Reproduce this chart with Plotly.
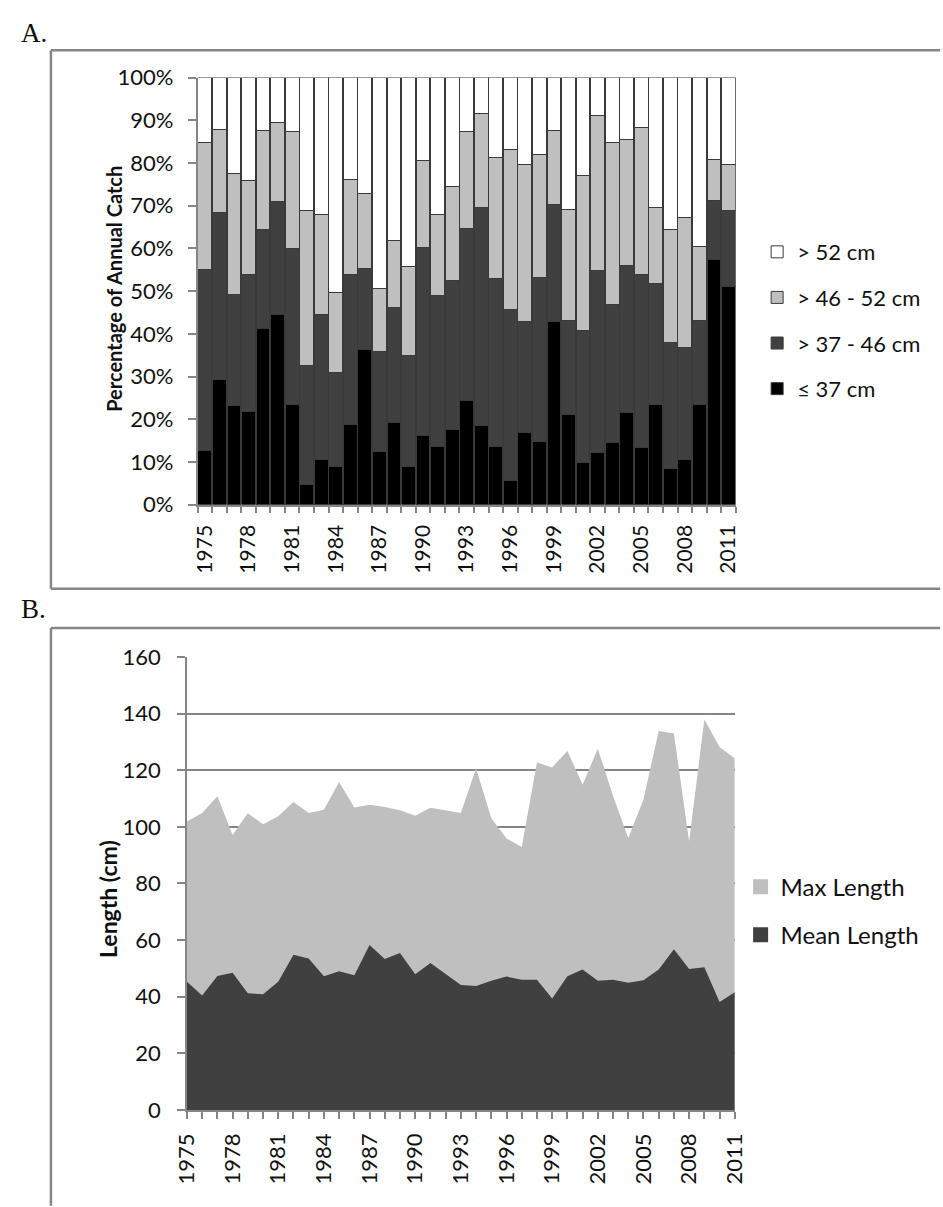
import plotly.graph_objects as go

# ---------------- data ----------------
years = list(range(1975, 2012))
label_years = list(range(1975, 2012, 3))

# Percentage of annual catch by length class (each year sums to 100)
share_le37 = [12.8, 29.4, 23.3, 21.9, 41.3, 44.5, 23.5, 4.8, 10.6, 8.9,
              18.8, 36.4, 12.5, 19.3, 8.9, 16.2, 13.7, 17.7, 24.4, 18.5,
              13.7, 5.6, 17.0, 14.9, 42.9, 21.2, 10.0, 12.3, 14.5, 21.6,
              13.4, 23.5, 8.6, 10.7, 23.5, 57.4, 51.0]
share_37_46 = [42.3, 38.9, 25.9, 32.1, 23.1, 26.4, 36.4, 27.8, 33.9, 22.1,
               35.0, 19.0, 23.4, 26.8, 26.0, 44.1, 35.3, 34.7, 40.3, 51.0,
               39.2, 40.0, 25.9, 38.3, 27.4, 22.0, 30.7, 42.6, 32.3, 34.3,
               40.5, 28.4, 29.4, 26.0, 19.6, 13.8, 17.9]
share_46_52 = [29.8, 19.6, 28.4, 22.0, 23.3, 18.5, 27.5, 36.3, 23.5, 18.6,
               22.4, 17.4, 14.7, 15.8, 20.9, 20.2, 19.0, 22.1, 22.7, 22.1,
               28.4, 37.6, 36.8, 28.9, 17.4, 25.9, 36.3, 36.2, 37.9, 29.5,
               34.4, 17.7, 26.4, 30.6, 17.4, 9.5, 10.7]
share_gt52 = [15.1, 12.1, 22.4, 24.0, 12.3, 10.6, 12.6, 31.1, 32.0, 50.4,
              23.8, 27.2, 49.4, 38.1, 44.2, 19.5, 32.0, 25.5, 12.6, 8.4,
              18.7, 16.8, 20.3, 17.9, 12.3, 30.9, 23.0, 8.9, 15.3, 14.6,
              11.7, 30.4, 35.6, 32.7, 39.5, 19.3, 20.4]

# Maximum and mean length of the catch (cm)
max_length = [101.9, 104.9, 110.8, 97.1, 104.8, 100.9, 103.7, 108.8, 104.9, 106.0,
              115.8, 106.8, 107.8, 107.0, 105.9, 103.9, 106.7, 105.9, 104.9, 120.7,
              103.0, 95.9, 92.9, 122.7, 121.0, 126.8, 114.9, 127.6, 110.9, 96.1,
              109.7, 133.9, 133.0, 94.8, 137.9, 128.2, 124.1]
mean_length = [45.3, 40.4, 47.3, 48.5, 41.2, 40.9, 45.3, 54.8, 53.5, 47.2,
               49.0, 47.6, 58.3, 53.3, 55.4, 47.9, 51.9, 47.9, 44.1, 43.8,
               45.6, 47.1, 46.0, 46.0, 39.4, 47.2, 49.6, 45.6, 46.0, 44.9,
               45.8, 49.6, 56.8, 49.8, 50.4, 38.1, 41.6]

size_classes = ["\u2264 37 cm", "> 37 - 46 cm", "> 46 - 52 cm", "> 52 cm"]
class_colors = ["#000000", "#404040", "#bfbfbf", "#ffffff"]

# ---------------- page geometry ----------------
W, H = 943, 1207


def px(x):
    return x / W


def py(y):
    return 1 - y / H


FONT = "Lato, 'Open Sans', sans-serif"
AXIS_GRAY = "#868686"
TEXT = "#111111"

fig = go.Figure()

# Panel A: stacked bars of catch composition (largest class listed first in legend)
for i, (name, vals, col) in enumerate(zip(size_classes,
                                          [share_le37, share_37_46, share_46_52, share_gt52],
                                          class_colors)):
    fig.add_trace(go.Bar(
        x=years, y=vals, name=name, marker_color=col,
        marker_line=dict(color="#3a3a3a", width=1),
        xaxis="x", yaxis="y", legend="legend", legendgroup=name,
        legendrank=10 - i, hoverinfo="x+y+name",
    ))

# Panel B: overlaid area series
fig.add_trace(go.Scatter(
    x=years, y=max_length, name="Max Length", mode="lines",
    line=dict(width=0, color="#bfbfbf"), fill="tozeroy", fillcolor="#bfbfbf",
    xaxis="x2", yaxis="y2", showlegend=False,
))
fig.add_trace(go.Scatter(
    x=years, y=mean_length, name="Mean Length", mode="lines",
    line=dict(width=0, color="#404040"), fill="tozeroy", fillcolor="#404040",
    xaxis="x2", yaxis="y2", showlegend=False,
))
# square legend keys for the area series
for name, col in [("Max Length", "#bfbfbf"), ("Mean Length", "#404040")]:
    fig.add_trace(go.Scatter(
        x=[None], y=[None], name=name, mode="markers",
        marker=dict(symbol="square", size=15, color=col),
        xaxis="x2", yaxis="y2", legend="legend2", legendgroup=name,
    ))

fig.update_layout(
    width=W, height=H,
    margin=dict(l=0, r=0, t=0, b=0),
    paper_bgcolor="white", plot_bgcolor="white",
    barmode="stack", bargap=0.05,
    font=dict(family=FONT, color=TEXT),
    xaxis=dict(
        domain=[px(188), px(742)], anchor="y",
        range=[1974.5, 2011.5], tickmode="array", tickvals=label_years,
        ticktext=[str(v) for v in label_years], tickangle=-90,
        ticks="", showgrid=False, zeroline=False,
        showline=True, linecolor=AXIS_GRAY, linewidth=1.5,
        tickfont=dict(family=FONT, size=21, color=TEXT), ticklabelstandoff=10,
        minor=dict(tickmode="linear", tick0=1974.5, dtick=1, ticks="outside",
                   ticklen=6, tickcolor=AXIS_GRAY, tickwidth=1.5, showgrid=False),
    ),
    yaxis=dict(
        domain=[py(502), py(65)], anchor="x",
        range=[0, 100], tickmode="linear", tick0=0, dtick=10, ticksuffix="%",
        ticks="outside", ticklen=8, tickcolor=AXIS_GRAY, tickwidth=1.5,
        showgrid=False, zeroline=False,
        showline=True, linecolor=AXIS_GRAY, linewidth=1.5,
        tickfont=dict(family=FONT, size=22, color=TEXT), ticklabelstandoff=10,
    ),
    xaxis2=dict(
        domain=[px(177), px(741)], anchor="y2",
        range=[1975, 2011], tickmode="array", tickvals=label_years,
        ticktext=[str(v) for v in label_years], tickangle=-90,
        ticks="outside", ticklen=7, tickcolor=AXIS_GRAY, tickwidth=1.5,
        showgrid=False, zeroline=False,
        showline=True, linecolor=AXIS_GRAY, linewidth=1.5,
        tickfont=dict(family=FONT, size=22, color=TEXT), ticklabelstandoff=6,
        minor=dict(tickmode="linear", tick0=1975, dtick=1, ticks="outside",
                   ticklen=7, tickcolor=AXIS_GRAY, tickwidth=1.5, showgrid=False),
    ),
    yaxis2=dict(
        domain=[py(1121), py(657.7)], anchor="x2",
        range=[0, 160], tickmode="linear", tick0=0, dtick=20,
        ticks="outside", ticklen=8, tickcolor=AXIS_GRAY, tickwidth=1.5,
        showgrid=True, gridcolor=AXIS_GRAY, gridwidth=1.5, zeroline=False,
        showline=True, linecolor=AXIS_GRAY, linewidth=1.5,
        tickfont=dict(family=FONT, size=22, color=TEXT), ticklabelstandoff=12,
    ),
    legend=dict(
        x=px(764), y=py(222), xanchor="left", yanchor="top",
        traceorder="grouped", tracegroupgap=14,
        font=dict(family=FONT, size=22, color=TEXT),
        bgcolor="rgba(0,0,0,0)", itemclick=False, itemdoubleclick=False,
    ),
    legend2=dict(
        x=px(747), y=py(870), xanchor="left", yanchor="top",
        traceorder="grouped", tracegroupgap=14,
        font=dict(family=FONT, size=24, color=TEXT),
        bgcolor="rgba(0,0,0,0)", itemclick=False, itemdoubleclick=False,
    ),
)

# Panel frames
frame = dict(type="line", xref="paper", yref="paper",
             line=dict(color=AXIS_GRAY, width=2.5), layer="below")
fig.add_shape(x0=px(37), x1=1.01, y0=py(37), y1=py(37), **frame)
fig.add_shape(x0=px(37), x1=px(37), y0=py(37), y1=py(588), **frame)
fig.add_shape(x0=px(37), x1=1.01, y0=py(588), y1=py(588), **frame)
fig.add_shape(x0=px(37), x1=1.01, y0=py(628), y1=py(628), **frame)
fig.add_shape(x0=px(37), x1=px(37), y0=py(628), y1=-0.01, **frame)

# Panel letters and axis titles
fig.add_annotation(text="A.", x=px(4), y=py(19), xref="paper", yref="paper",
                   xanchor="left", yanchor="middle", showarrow=False,
                   font=dict(family="Liberation Serif, serif", size=27, color=TEXT))
fig.add_annotation(text="B.", x=px(4), y=py(609), xref="paper", yref="paper",
                   xanchor="left", yanchor="middle", showarrow=False,
                   font=dict(family="Liberation Serif, serif", size=27, color=TEXT))
fig.add_annotation(text="<b>Percentage of Annual Catch</b>", x=px(102), y=py(281),
                   xref="paper", yref="paper", textangle=-90, showarrow=False,
                   xanchor="center", yanchor="middle",
                   font=dict(family=FONT, size=20, color=TEXT))
fig.add_annotation(text="<b>Length (cm)</b>", x=px(96), y=py(905),
                   xref="paper", yref="paper", textangle=-90, showarrow=False,
                   xanchor="center", yanchor="middle",
                   font=dict(family=FONT, size=23, color=TEXT))

fig.write_html("out.html", post_script="document.body.style.margin='0';")
